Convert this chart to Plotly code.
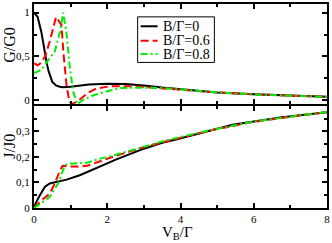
import plotly.graph_objects as go

# ---- data ----
v_g0 = [0, 0.1, 0.2, 0.25, 0.3, 0.35, 0.4, 0.45, 0.5, 0.6, 0.7, 0.8, 1.0, 1.5, 2.0, 2.5, 3.0, 3.5, 4.0, 4.5, 5.0, 6.0, 7.0, 8.0]
g_b0 = [1.0, 0.95, 0.78, 0.65, 0.53, 0.42, 0.33, 0.26, 0.21, 0.17, 0.155, 0.15, 0.155, 0.18, 0.19, 0.185, 0.17, 0.145, 0.125, 0.105, 0.09, 0.068, 0.052, 0.04]

v_g6 = [0, 0.1, 0.2, 0.3, 0.43, 0.6, 0.75, 0.8, 0.89, 0.96, 1.02, 1.1, 1.25, 1.48, 1.7, 2.07, 2.7, 3.2, 3.6, 4.0, 4.5, 5.0, 6.0, 7.0, 8.0]
g_b6 = [0.42, 0.4, 0.43, 0.5, 0.67, 0.95, 0.86, 0.56, 0.16, 0.0, -0.045, -0.03, 0.01, 0.086, 0.135, 0.16, 0.16, 0.145, 0.13, 0.12, 0.103, 0.09, 0.068, 0.052, 0.04]

v_g8 = [0, 0.21, 0.39, 0.57, 0.71, 0.8, 0.89, 0.98, 1.07, 1.18, 1.32, 1.57, 1.8, 2.34, 2.88, 3.5, 4.0, 4.5, 5.0, 6.0, 7.0, 8.0]
g_b8 = [0.31, 0.35, 0.46, 0.56, 0.78, 1.0, 0.75, 0.37, 0.1, -0.045, 0.0, 0.05, 0.08, 0.14, 0.145, 0.14, 0.125, 0.105, 0.09, 0.068, 0.052, 0.04]

v_j0 = [0, 0.05, 0.16, 0.3, 0.43, 0.62, 0.89, 1.25, 1.7, 2.25, 3.0, 3.5, 3.88, 4.5, 5.42, 6.77, 8.0]
j_b0 = [0, 0.02, 0.05, 0.083, 0.096, 0.102, 0.111, 0.128, 0.156, 0.19, 0.232, 0.255, 0.268, 0.292, 0.326, 0.355, 0.375]

v_j6 = [0, 0.16, 0.43, 0.57, 0.71, 0.78, 0.9, 1.2, 1.45, 1.7, 2.25, 3.0, 3.5, 4.0, 5.0, 6.0, 7.0, 8.0]
j_b6 = [0, 0.024, 0.057, 0.096, 0.147, 0.165, 0.163, 0.162, 0.165, 0.178, 0.205, 0.238, 0.258, 0.275, 0.309, 0.337, 0.357, 0.375]

v_j8 = [0, 0.16, 0.43, 0.66, 0.84, 0.98, 1.45, 1.7, 2.25, 3.0, 3.5, 4.0, 5.0, 6.0, 7.0, 8.0]
j_b8 = [0, 0.015, 0.044, 0.096, 0.167, 0.173, 0.177, 0.189, 0.209, 0.24, 0.26, 0.278, 0.31, 0.338, 0.358, 0.376]

labels = ["B/Γ=0", "B/Γ=0.6", "B/Γ=0.8"]
colors = ["#000000", "#ff0000", "#00ee00"]
dashes = ["solid", "8px,4px", "7px,3px,2px,3px"]

FONT = "Liberation Serif, Times New Roman, serif"

W, H = 332, 243
ML, MR, MT, MB = 34, 4, 2, 35
PW, PH = W - ML - MR, H - MT - MB


def px_x(p):  # pixel x -> paper x
    return (p - ML) / PW


def px_y(p):  # pixel y -> paper y
    return (H - MB - p) / PH


fig = go.Figure()
g_series = [(v_g0, g_b0), (v_g6, g_b6), (v_g8, g_b8)]
j_series = [(v_j0, j_b0), (v_j6, j_b6), (v_j8, j_b8)]
for i in range(3):
    fig.add_trace(go.Scatter(x=g_series[i][0], y=g_series[i][1], mode="lines",
                             name=labels[i], showlegend=False, xaxis="x2", yaxis="y2",
                             line=dict(color=colors[i], width=2, dash=dashes[i])))
for i in range(3):
    fig.add_trace(go.Scatter(x=j_series[i][0], y=j_series[i][1], mode="lines",
                             name=labels[i], showlegend=False, xaxis="x", yaxis="y",
                             line=dict(color=colors[i], width=2, dash=dashes[i])))

ax_common = dict(showline=True, linecolor="black", linewidth=2, mirror="allticks",
                 ticks="inside", ticklen=5, tickwidth=1.5, tickcolor="black",
                 showgrid=False, zeroline=False,
                 tickfont=dict(family=FONT, size=11, color="black"))

top_dom = [px_y(103), 1]
bot_dom = [0, px_y(105)]
fig.update_layout(
    width=W, height=H,
    margin=dict(l=ML, r=MR, t=MT, b=MB),
    paper_bgcolor="white", plot_bgcolor="white",
    separators=",.",
    font=dict(family=FONT, color="black"),
    showlegend=False,
    xaxis=dict(**ax_common, domain=[0, 1], range=[0, 8], dtick=2, tick0=0,
               minor=dict(dtick=1, ticklen=3, ticks="inside", tickcolor="black", tickwidth=1.5),
               anchor="y"),
    yaxis=dict(**ax_common, domain=bot_dom, range=[0, 0.399],
               tickvals=[0, 0.1, 0.2, 0.3],
               minor=dict(dtick=0.05, ticklen=3, ticks="inside", tickcolor="black", tickwidth=1.5),
               anchor="x"),
    xaxis2=dict(**ax_common, domain=[0, 1], range=[0, 8], dtick=2, tick0=0,
                showticklabels=False,
                minor=dict(dtick=1, ticklen=3, ticks="inside", tickcolor="black", tickwidth=1.5),
                anchor="y2"),
    yaxis2=dict(**ax_common, domain=top_dom, range=[-0.042, 1.098],
                tickvals=[0, 0.5, 1],
                minor=dict(dtick=0.25, tick0=0, ticklen=3, ticks="inside", tickcolor="black", tickwidth=1.5),
                anchor="x2"),
)

# legend (drawn as a boxed key)
fig.add_shape(type="rect", xref="paper", yref="paper",
              x0=px_x(138), x1=px_x(215), y0=px_y(61), y1=px_y(15),
              line=dict(color="black", width=1), fillcolor="white", layer="above")
row_y = [24.5, 39, 52.5]
for i in range(3):
    fig.add_shape(type="line", xref="paper", yref="paper",
                  x0=px_x(141), x1=px_x(158), y0=px_y(row_y[i]), y1=px_y(row_y[i]),
                  line=dict(color=colors[i], width=2, dash=dashes[i]), layer="above")
    fig.add_annotation(text=labels[i], xref="paper", yref="paper",
                       x=px_x(161), y=px_y(row_y[i]), xanchor="left", yanchor="middle",
                       showarrow=False, font=dict(family=FONT, size=14, color="black"))

fig.add_annotation(text="G/G0", xref="paper", yref="paper", x=px_x(10), y=px_y(43),
                   xanchor="center", yanchor="middle", textangle=-90, showarrow=False,
                   font=dict(family=FONT, size=16, color="black"))
fig.add_annotation(text="J/J0", xref="paper", yref="paper", x=px_x(10), y=px_y(146),
                   xanchor="center", yanchor="middle", textangle=-90, showarrow=False,
                   font=dict(family=FONT, size=16, color="black"))
fig.add_annotation(text="V<sub>B</sub>/Γ", xref="paper", yref="paper", x=px_x(178), y=px_y(223),
                   xanchor="center", yanchor="top", showarrow=False, borderpad=0,
                   font=dict(family=FONT, size=15, color="black"))

fig.write_html("out.html", config={"displayModeBar": False},
               post_script="document.body.style.margin='0';document.body.style.overflow='hidden';")
